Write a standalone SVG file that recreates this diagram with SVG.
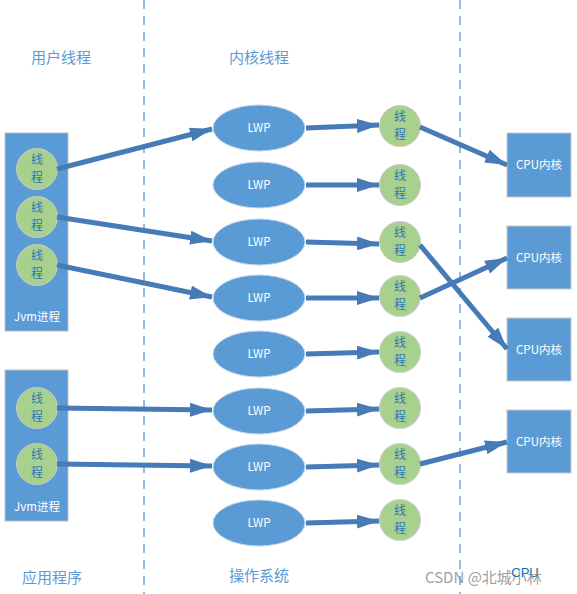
<svg xmlns="http://www.w3.org/2000/svg" width="577" height="594" viewBox="0 0 577 594">
<defs>
<marker id="ah" viewBox="0 0 10 10" refX="10" refY="5" markerWidth="4.4" markerHeight="2.8" orient="auto" markerUnits="strokeWidth" preserveAspectRatio="none">
<path d="M0,0 L10,5 L0,10 Z" fill="#467BB7"/>
</marker>
</defs>
<style>
.dash{stroke:#6FA6DC;stroke-width:1.5;stroke-dasharray:9 7;fill:none}
.lbl{font-family:"Noto Sans CJK SC","Liberation Sans",sans-serif;font-size:15px;fill:#5B9BD5;text-anchor:middle}
.proc{fill:#5B9BD5;stroke:#BFBFBF;stroke-width:1}
.thr{fill:#A9D18E;stroke:#C9C9C9;stroke-width:1}
.thr-t{font-family:"Noto Sans CJK SC",sans-serif;font-size:12px;fill:#2E75B6;text-anchor:middle}
.lwp{fill:#5B9BD5;stroke:#C5D6EA;stroke-width:1}
.wt{font-family:"Noto Sans CJK SC","Liberation Sans",sans-serif;font-size:11.5px;fill:#FFFFFF;text-anchor:middle}
.cpu{fill:#5B9BD5;stroke:#C9C9C9;stroke-width:1}
.arr{stroke:#467BB7;stroke-width:5;fill:none;marker-end:url(#ah)}
</style>
<rect width="577" height="594" fill="#FFFFFF"/>
<g id="dividers">
<line class="dash" x1="144" y1="0" x2="144" y2="594"/>
<line class="dash" x1="460" y1="0" x2="460" y2="594"/>
</g>
<g id="labels">
<text class="lbl" x="61" y="63">用户线程</text>
<text class="lbl" x="259" y="63">内核线程</text>
<text class="lbl" x="52" y="583">应用程序</text>
<text class="lbl" x="259" y="581">操作系统</text>
<text x="525" y="577" font-family="Liberation Sans,sans-serif" font-size="13" fill="#0070C0" text-anchor="middle">CPU</text>
</g>
<g id="proc1">
<rect class="proc" x="5" y="133" width="63" height="198"/>
<text class="wt" x="37" y="321" font-size="12">Jvm进程</text>
</g>
<g id="proc2">
<rect class="proc" x="5" y="370" width="63" height="151"/>
<text class="wt" x="37" y="511" font-size="12">Jvm进程</text>
</g>
<g id="ut1"><circle class="thr" cx="37" cy="169" r="20.5"/><text class="thr-t" x="37" y="164">线</text><text class="thr-t" x="37" y="181.5">程</text></g>
<g id="ut2"><circle class="thr" cx="37" cy="217" r="20.5"/><text class="thr-t" x="37" y="212">线</text><text class="thr-t" x="37" y="229.5">程</text></g>
<g id="ut3"><circle class="thr" cx="37" cy="265" r="20.5"/><text class="thr-t" x="37" y="260">线</text><text class="thr-t" x="37" y="277.5">程</text></g>
<g id="ut4"><circle class="thr" cx="37" cy="408" r="20.5"/><text class="thr-t" x="37" y="403">线</text><text class="thr-t" x="37" y="420.5">程</text></g>
<g id="ut5"><circle class="thr" cx="37" cy="464" r="20.5"/><text class="thr-t" x="37" y="459">线</text><text class="thr-t" x="37" y="476.5">程</text></g>

<g id="lwp1"><ellipse class="lwp" cx="259" cy="128" rx="46" ry="23"/><text class="wt" x="259" y="132">LWP</text></g>
<g id="lwp2"><ellipse class="lwp" cx="259" cy="185" rx="46" ry="23"/><text class="wt" x="259" y="189">LWP</text></g>
<g id="lwp3"><ellipse class="lwp" cx="259" cy="242" rx="46" ry="23"/><text class="wt" x="259" y="246">LWP</text></g>
<g id="lwp4"><ellipse class="lwp" cx="259" cy="298" rx="46" ry="23"/><text class="wt" x="259" y="302">LWP</text></g>
<g id="lwp5"><ellipse class="lwp" cx="259" cy="354" rx="46" ry="23"/><text class="wt" x="259" y="358">LWP</text></g>
<g id="lwp6"><ellipse class="lwp" cx="259" cy="411" rx="46" ry="23"/><text class="wt" x="259" y="415">LWP</text></g>
<g id="lwp7"><ellipse class="lwp" cx="259" cy="467" rx="46" ry="23"/><text class="wt" x="259" y="471">LWP</text></g>
<g id="lwp8"><ellipse class="lwp" cx="259" cy="523" rx="46" ry="23"/><text class="wt" x="259" y="527">LWP</text></g>

<g id="kt1"><circle class="thr" cx="400" cy="126" r="20.5"/><text class="thr-t" x="400" y="121">线</text><text class="thr-t" x="400" y="138.5">程</text></g>
<g id="kt2"><circle class="thr" cx="400" cy="185" r="20.5"/><text class="thr-t" x="400" y="180">线</text><text class="thr-t" x="400" y="197.5">程</text></g>
<g id="kt3"><circle class="thr" cx="400" cy="242" r="20.5"/><text class="thr-t" x="400" y="237">线</text><text class="thr-t" x="400" y="254.5">程</text></g>
<g id="kt4"><circle class="thr" cx="400" cy="296" r="20.5"/><text class="thr-t" x="400" y="291">线</text><text class="thr-t" x="400" y="308.5">程</text></g>
<g id="kt5"><circle class="thr" cx="400" cy="352" r="20.5"/><text class="thr-t" x="400" y="347">线</text><text class="thr-t" x="400" y="364.5">程</text></g>
<g id="kt6"><circle class="thr" cx="400" cy="408" r="20.5"/><text class="thr-t" x="400" y="403">线</text><text class="thr-t" x="400" y="420.5">程</text></g>
<g id="kt7"><circle class="thr" cx="400" cy="464" r="20.5"/><text class="thr-t" x="400" y="459">线</text><text class="thr-t" x="400" y="476.5">程</text></g>
<g id="kt8"><circle class="thr" cx="400" cy="520" r="20.5"/><text class="thr-t" x="400" y="515">线</text><text class="thr-t" x="400" y="532.5">程</text></g>

<g id="cpu1"><rect class="cpu" x="507" y="133" width="64" height="64"/><text class="wt" x="539" y="169">CPU内核</text></g>
<g id="cpu2"><rect class="cpu" x="507" y="226" width="64" height="63"/><text class="wt" x="539" y="262">CPU内核</text></g>
<g id="cpu3"><rect class="cpu" x="507" y="318" width="64" height="63"/><text class="wt" x="539" y="354">CPU内核</text></g>
<g id="cpu4"><rect class="cpu" x="507" y="410" width="64" height="63"/><text class="wt" x="539" y="446">CPU内核</text></g>

<g id="connectors">
<line class="arr" x1="57" y1="169" x2="212" y2="129"/>
<line class="arr" x1="57" y1="217" x2="212" y2="241"/>
<line class="arr" x1="57" y1="265" x2="212" y2="297"/>
<line class="arr" x1="57" y1="408" x2="212" y2="410"/>
<line class="arr" x1="57" y1="464" x2="212" y2="466"/>
<line class="arr" x1="306" y1="128" x2="379" y2="125"/>
<line class="arr" x1="306" y1="185" x2="379" y2="185"/>
<line class="arr" x1="306" y1="242" x2="379" y2="244"/>
<line class="arr" x1="306" y1="298" x2="379" y2="298"/>
<line class="arr" x1="306" y1="354" x2="379" y2="352"/>
<line class="arr" x1="306" y1="411" x2="379" y2="409"/>
<line class="arr" x1="306" y1="467" x2="379" y2="465"/>
<line class="arr" x1="306" y1="523" x2="379" y2="521"/>
<line class="arr" x1="420" y1="127" x2="507" y2="165"/>
<line class="arr" x1="420" y1="245" x2="507" y2="349"/>
<line class="arr" x1="420" y1="298" x2="507" y2="258"/>
<line class="arr" x1="420" y1="464" x2="507" y2="442"/>
</g>
<g id="watermark">
<text x="425" y="583" font-family="Noto Sans CJK SC,Liberation Sans,sans-serif" font-size="15" fill="#8C8C8C" fill-opacity="0.85">CSDN @北城小林</text>
</g>
</svg>
